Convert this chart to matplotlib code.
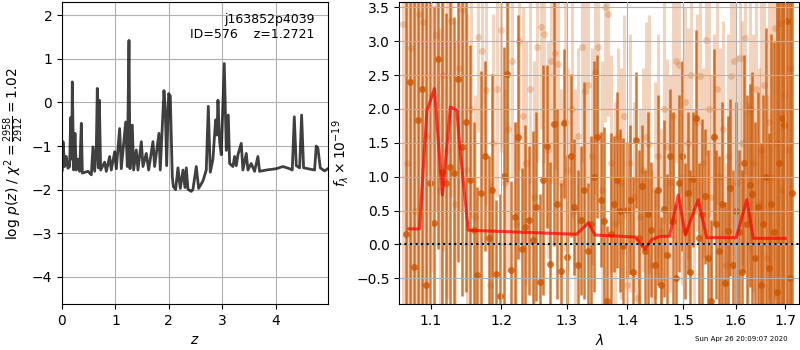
import numpy as np
import matplotlib
matplotlib.use("Agg")
from matplotlib import pyplot as plt
from matplotlib.ticker import NullLocator

# --- p(z) curve (left panel) ---
z_grid = [0.006, 0.019, 0.050, 0.081, 0.112, 0.143, 0.162, 0.181, 0.193, 0.218,
          0.243, 0.268, 0.299, 0.331, 0.362, 0.381, 0.487, 0.549, 0.580, 0.611,
          0.643, 0.661, 0.680, 0.699, 0.724, 0.798, 0.830, 0.892, 0.923, 0.986,
          1.017, 1.079, 1.110, 1.192, 1.223, 1.254, 1.273, 1.316, 1.341, 1.391,
          1.422, 1.485, 1.516, 1.578, 1.622, 1.703, 1.734, 1.815, 1.840, 1.909,
          1.934, 1.959, 1.996, 2.027, 2.065, 2.084, 2.127, 2.171, 2.215, 2.265,
          2.302, 2.327, 2.358, 2.420, 2.452, 2.514, 2.558, 2.639, 2.701, 2.739,
          2.776, 2.826, 2.876, 2.901, 2.920, 2.951, 2.982, 3.038, 3.076, 3.113,
          3.138, 3.200, 3.231, 3.263, 3.294, 3.356, 3.387, 3.450, 3.481, 3.543,
          3.605, 3.668, 3.699, 3.824, 4.012, 4.136, 4.261, 4.311, 4.349, 4.386,
          4.449, 4.486, 4.523, 4.604, 4.729, 4.760, 4.791, 4.835, 4.916, 4.978]
log_pz = [-1.55, -0.90, -1.47, -1.24, -1.51, -1.47, -0.35, -1.30, 0.47, -1.55,
          -0.71, -1.55, -1.30, -1.58, -0.48, -1.62, -1.58, -1.66, -1.02, -1.58,
          -1.00, 0.32, -1.50, 0.05, -1.55, -1.37, -1.58, -1.24, -1.55, -1.13,
          -1.52, -0.60, -1.52, -0.45, -1.47, 1.42, -1.52, -0.52, -1.55, -1.09,
          -1.55, -0.90, -1.47, -1.17, -1.55, -0.90, -1.47, -0.71, -1.55, 0.27,
          -0.15, -1.45, 0.20, 0.15, -1.70, -1.93, -2.00, -1.50, -1.97, -1.55,
          -1.95, -1.50, -1.99, -2.04, -1.99, -1.47, -1.97, -1.80, -1.55, -0.09,
          -1.60, -1.30, -0.40, -0.75, 0.05, -0.90, -1.20, 0.89, -1.10, -0.29,
          -1.40, -1.47, -1.24, -1.45, -1.20, -0.94, -1.55, -1.17, -1.55, -1.40,
          -1.58, -1.24, -1.58, -1.55, -1.52, -1.47, -1.52, -1.55, -0.33, -1.45,
          -1.50, -0.29, -1.50, -1.52, -1.55, -1.00, -1.05, -1.50, -1.57, -1.52]

# --- spectrum (right panel) ---
lam_dark = np.linspace(1.067, 1.715, 120)
flux_dark = [0.15, 2.40, -0.33, 1.83, 2.30, -0.60, 0.90, 0.32, 2.73, 1.07,
             0.91, 1.15, 1.06, 2.44, 1.44, 1.80, 0.95, 0.21, -0.45, 0.76,
             1.30, 0.10, 0.81, -0.44, -0.76, 1.01, 2.52, -0.37, 0.40, 1.59,
             -0.07, 0.26, 0.36, 0.07, 0.56, -0.55, 0.95, 1.45, -0.29, 1.78,
             0.60, -0.39, 1.79, -0.18, 1.31, 0.55, -0.30, 0.36, 0.80, -0.10,
             0.30, 1.00, 1.59, 0.66, 0.34, -0.83, 0.15, 0.60, 0.95, 0.50,
             -0.03, 0.51, 0.66, -0.40, 1.54, 0.10, 0.86, -0.10, 0.45, 0.22,
             -0.30, 0.80, -0.60, 0.53, -0.16, 1.30, 0.35, -0.50, 0.90, 1.30,
             0.20, 0.76, -0.40, 0.96, 1.87, 0.10, 0.45, 0.71, -0.20, -0.84,
             1.58, 0.30, -0.10, 0.60, -0.57, 0.20, 0.84, -0.30, 0.50, 0.19,
             -0.40, 1.20, 0.30, 0.87, 0.75, -0.20, 0.55, -0.60, 0.30, 1.00,
             -0.35, 0.60, 0.19, -0.70, 1.20, 1.86, 1.76, 3.30, -0.50, 0.76]
err_dark = [6, 6, 6, 6, 6, 6, 6,
            3.2, 2.8, 3.0, 2.5, 2.8, 2.3, 2.7, 2.2, 2.5, 2.0,
            1.6, 1.3, 1.8, 1.4, 1.2, 1.7, 1.1, 1.5, 1.9, 1.6, 1.3, 1.4,
            1.8, 1.2, 1.5, 1.1, 1.6, 1.4, 1.3, 1.7, 1.2, 1.5, 1.8, 1.4,
            1.3, 1.1, 1.5, 1.2, 1.0, 1.4, 1.1, 1.6, 1.0, 1.3, 1.7, 1.2,
            1.0, 1.4, 1.1, 1.5, 1.0, 1.3, 1.2, 1.6, 1.0, 1.1, 1.4, 1.0,
            1.3, 0.9, 1.2, 1.5, 1.0, 1.1, 1.4, 1.0, 1.3, 1.2, 1.0, 1.6,
            1.1, 1.3, 1.4, 1.0, 1.2, 1.5, 1.0, 1.3, 1.1, 1.4, 1.0, 1.6,
            1.2, 1.3, 1.1, 1.4, 1.5, 1.2, 1.7, 1.3, 1.4, 1.6, 1.2, 1.5,
            1.6, 1.9, 1.5, 1.8, 2.0, 1.7, 2.1, 1.9, 2.2, 2.0, 2.5, 2.8,
            6, 6, 6, 6, 6, 6, 6]

lam_light = np.linspace(1.063, 1.711, 120)
flux_light = [3.26, 1.20, 2.90, 0.50, 3.40, 3.29, 1.60, 2.20, 3.09, 0.80,
              2.50, 1.40, 3.30, 0.60, 2.60, 3.46, 1.10, 2.00, 0.40, 3.06,
              2.86, 2.28, -0.60, 1.50, 2.30, 3.17, 0.90, 1.70, 2.70, 0.30,
              3.00, 1.90, 1.20, 2.30, 0.70, 2.92, 3.21, 3.10, 1.40, 2.71,
              2.82, 2.67, 0.90, 1.80, 1.10, 2.00, 0.50, 1.60, 2.91, 2.26,
              2.35, 1.30, 2.54, 2.91, 0.80, 3.51, 3.40, 1.20, 0.30, 1.60,
              0.90, 1.89, -0.60, 1.20, 0.70, -0.79, 0.40, 1.10, 1.59, 1.48,
              -0.30, 0.80, 1.30, 0.20, 2.00, 1.44, 0.90, 1.90, 2.70, 2.65,
              1.00, 2.10, 1.50, 2.50, 0.50, 1.80, 2.48, 1.20, 3.02, 2.00,
              0.70, 1.60, 2.30, 1.00, 1.70, -0.30, 1.30, 2.48, 2.70, 0.90,
              2.75, 1.50, 3.04, 0.40, 2.00, 1.20, 2.30, 0.60, 1.40, 2.35,
              -0.20, 1.80, 1.00, 3.19, 1.50, 3.27, 0.80, 2.20, 1.40, 2.60]
err_light = [5, 5, 5, 5, 4.5, 4.5, 4,
             2.6, 2.6, 2.4, 2.6, 2.2, 2.6, 2.4, 2.1, 2.6, 2.3,
             1.6, 1.8, 1.4, 2.0, 1.7, 1.5, 1.9, 1.6, 1.8, 1.4, 2.1, 1.7,
             1.5, 1.9, 1.6, 1.8, 1.4, 2.0, 1.7, 1.5, 1.9, 1.6, 1.8, 1.7,
             1.7, 1.4, 1.9, 1.5, 1.6, 1.8, 1.3, 1.7, 2.0, 1.5, 1.6, 1.8,
             1.4, 1.9, 1.7, 1.5, 1.6, 1.8, 1.3, 1.7, 1.5, 1.6, 1.9, 1.4,
             1.8, 1.6, 1.5, 1.7, 1.9, 1.4, 1.6, 1.8, 1.5, 1.7, 1.3, 1.6,
             1.8, 1.5, 1.9, 1.6, 1.4, 1.7, 1.8, 1.5, 1.6, 1.9, 1.4, 1.7,
             1.6, 1.8, 1.5, 1.7, 1.9, 1.6, 1.5, 1.8, 1.7, 1.6, 1.9, 1.8,
             1.8, 2.0, 1.7, 2.1, 1.9, 2.2, 2.0, 2.3, 2.1, 2.4, 2.6, 2.8,
             4, 4.5, 5, 5, 5, 5, 5]

# best-fit model
lam_model = [1.071, 1.085, 1.095, 1.099, 1.105, 1.116, 1.127, 1.136, 1.140,
             1.152, 1.316, 1.335, 1.346, 1.414, 1.431, 1.443, 1.458, 1.475,
             1.491, 1.504, 1.528, 1.544, 1.601, 1.622, 1.635, 1.700]
flux_model = [0.23, 0.23, 1.98, 2.10, 2.30, 0.73, 2.03, 1.98, 1.44,
              0.21, 0.15, 0.32, 0.14, 0.11, -0.07, 0.07, 0.12, 0.12,
              0.73, 0.14, 0.66, 0.10, 0.10, 0.66, 0.09, 0.09]

lam_ticks = [1.1, 1.2, 1.3, 1.4, 1.5, 1.6, 1.7]
lam_ticklabels = ["1.1", "1.2", "1.3", "1.4", "1.5", "1.6", "1.7"]

spec_color = "#cc5500"

fig = plt.figure(figsize=(8, 3.5), dpi=100)

# left: p(z)
ax1 = fig.add_axes([0.0775, 0.1314, 0.3325, 0.8629])
ax1.plot(z_grid, log_pz, color="k", alpha=0.75, lw=2)
ax1.set_xlim(0, 4.98)
ax1.set_ylim(-4.62, 2.3)
ax1.set_yticks([-4, -3, -2, -1, 0, 1, 2])
ax1.grid()
ax1.set_xlabel("$z$")
ax1.set_ylabel(r"log $p(z)$ / $\chi^2=\frac{2958}{2912}=1.02$")
ax1.text(0.95, 0.965, "j163852p4039\nID=576    z=1.2721",
         transform=ax1.transAxes, ha="right", va="top", fontsize=9,
         multialignment="right")

# right: spectrum
ax2 = fig.add_axes([0.4991, 0.1314, 0.5, 0.8629])
ax2.errorbar(lam_light, flux_light, yerr=err_light, marker="o", ms=5,
             linestyle="none", color=spec_color, alpha=0.25, elinewidth=2.2,
             mew=0)
ax2.errorbar(lam_dark, flux_dark, yerr=err_dark, marker="o", ms=5,
             linestyle="none", color=spec_color, alpha=0.8, elinewidth=1.8,
             mew=0)
ax2.plot(lam_model, flux_model, color="red", alpha=0.7, lw=2.2, zorder=4)
ax2.axhline(0, color="k", linestyle=":", lw=1.5, zorder=5)
ax2.set_xscale("log")
ax2.set_xlim(1.0584, 1.730)
ax2.set_ylim(-0.879, 3.578)
ax2.set_xticks(lam_ticks)
ax2.set_xticklabels(lam_ticklabels)
ax2.xaxis.set_minor_locator(NullLocator())
ax2.set_axisbelow(False)
ax2.grid()
ax2.set_xlabel(r"$\lambda$")
ax2.set_ylabel(r"$f_\lambda \times 10^{-19}$")

fig.text(0.985, 0.022, "Sun Apr 26 20:09:07 2020", ha="right", va="bottom",
         fontsize=5)

fig.savefig("out.png", dpi=100)
